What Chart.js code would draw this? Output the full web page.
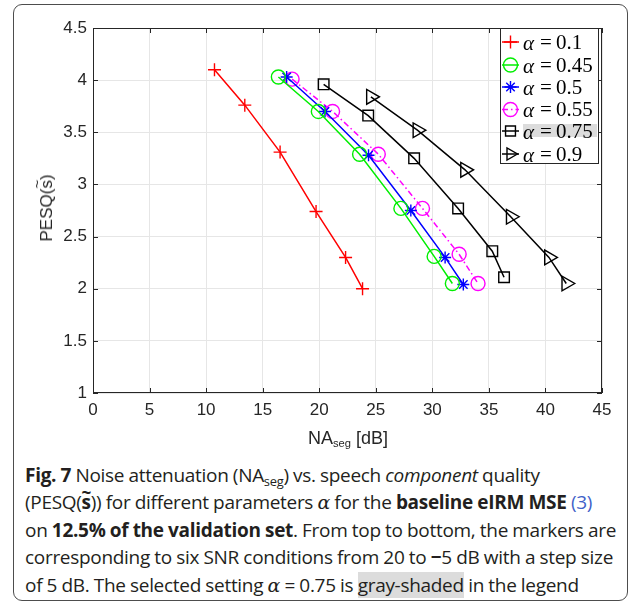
<!DOCTYPE html>
<html><head><meta charset="utf-8">
<script src="https://cdn.jsdelivr.net/npm/chart.js@4/dist/chart.umd.min.js"></script>
<style>
html,body{margin:0;padding:0;background:#fff;width:637px;height:608px;overflow:hidden;}
#frame{position:absolute;left:13px;top:4px;width:615px;height:597px;border:1px solid #4d4d4d;border-radius:9px;box-sizing:border-box;}
#c{position:absolute;left:0;top:0;}
.ytitle{position:absolute;left:47px;top:208px;transform:translate(-50%,-50%) rotate(-90deg);font-family:"Liberation Sans",Arial,sans-serif;font-size:17px;color:#262626;white-space:nowrap;}
.tl{position:relative;display:inline-block;}
.tl .t{position:absolute;left:0;right:0;text-align:center;top:-0.62em;font-size:0.9em;}
.xtitle{position:absolute;left:348px;top:438px;transform:translate(-50%,-50%);font-family:"Liberation Sans",Arial,sans-serif;font-size:18px;color:#262626;white-space:nowrap;}
.xtitle sub{font-size:0.62em;vertical-align:-0.3em;line-height:0;}
#cap{position:absolute;left:25px;top:462px;font-family:"Open Sans",sans-serif;font-size:19px;line-height:27.4px;white-space:nowrap;color:#231f20;letter-spacing:-0.3px;word-spacing:-0.3px;}
#cap sub{font-size:0.68em;vertical-align:-0.3em;line-height:0;}
#cap .m{font-family:"DejaVu Serif",serif;font-style:italic;}
#cap .blue{color:#3f62c9;}
#cap .gray{background:#dcdcdc;}
</style>
</head><body>
<div id="frame"></div>
<canvas id="c" width="637" height="450"></canvas>
<div class="ytitle">PESQ(<span class="tl">s<span class="t">~</span></span>)</div>
<div class="xtitle">NA<sub>seg</sub> [dB]</div>
<div id="cap"><b>Fig. 7</b> Noise attenuation (NA<sub>seg</sub>) vs. speech <i>component</i> quality<br>(PESQ(<b class="tl">s<span class="t">~</span></b>)) for different parameters <span class="m">α</span> for the <b>baseline eIRM MSE</b> <span class="blue">(3)</span><br>on <b>12.5% of the validation set</b>. From top to bottom, the markers are<br>corresponding to six SNR conditions from 20 to <b>−</b>5 dB with a step size<br>of 5 dB. The selected setting <span class="m">α</span> = 0.75 is <span class="gray">gray-shaded</span> in the legend</div>
<script>
// ---- data ----
const seriesNames = ["0.1", "0.45", "0.5", "0.55", "0.75", "0.9"];
const alpha01X  = [10.74, 13.42, 16.54, 19.72, 22.33, 23.83];
const alpha01Y  = [4.10, 3.76, 3.31, 2.74, 2.30, 2.00];
const alpha045X = [16.39, 19.92, 23.57, 27.22, 30.16, 31.77];
const alpha045Y = [4.03, 3.70, 3.29, 2.77, 2.31, 2.05];
const alpha05X  = [17.12, 20.51, 24.36, 28.10, 31.13, 32.74];
const alpha05Y  = [4.03, 3.70, 3.28, 2.75, 2.30, 2.04];
const alpha055X = [17.60, 21.18, 25.22, 29.13, 32.37, 34.04];
const alpha055Y = [4.01, 3.70, 3.29, 2.77, 2.33, 2.05];
const alpha075X = [20.39, 24.33, 28.39, 32.28, 35.30, 36.34];
const alpha075Y = [3.96, 3.66, 3.25, 2.77, 2.36, 2.11];
const alpha09X  = [24.57, 28.68, 32.89, 36.93, 40.31, 41.84];
const alpha09Y  = [3.84, 3.52, 3.14, 2.69, 2.30, 2.05];
const xTicks = [0, 5, 10, 15, 20, 25, 30, 35, 40, 45];
const yTicks = [1, 1.5, 2, 2.5, 3, 3.5, 4, 4.5];

const pts = (xs, ys) => xs.map((x, i) => ({x, y: ys[i]}));

const styles = [
  {color:'#ff0000', style:'cross', r:6.5, rot:0, dash:[]},
  {color:'#00ee00', style:'circle', r:7, rot:0, dash:[]},
  {color:'#0000ff', style:'star', r:6, rot:0, dash:[]},
  {color:'#ff00ff', style:'circle', r:7, rot:0, dash:[6,3,1.5,3]},
  {color:'#000000', style:'rect', r:7.5, rot:0, dash:[]},
  {color:'#000000', style:'triangle', r:8.5, rot:90, dash:[]}
];
const xs = [alpha01X, alpha045X, alpha05X, alpha055X, alpha075X, alpha09X];
const ys = [alpha01Y, alpha045Y, alpha05Y, alpha055Y, alpha075Y, alpha09Y];

const datasets = seriesNames.map((n, i) => ({
  label: 'α = ' + n,
  data: pts(xs[i], ys[i]),
  showLine: true,
  borderColor: styles[i].color,
  borderWidth: 1.5,
  borderDash: styles[i].dash,
  pointStyle: styles[i].style,
  pointRadius: styles[i].r,
  pointHoverRadius: styles[i].r,
  pointRotation: styles[i].rot,
  pointBorderColor: styles[i].color,
  pointBackgroundColor: 'rgba(0,0,0,0)',
  pointBorderWidth: 1.4,
  tension: 0
}));

function drawMarker(ctx, st, x, y){
  const r = st.r;
  ctx.save();
  ctx.strokeStyle = st.color; ctx.lineWidth = 1.4; ctx.setLineDash([]);
  ctx.beginPath();
  if (st.style === 'cross') {
    ctx.moveTo(x-r,y); ctx.lineTo(x+r,y); ctx.moveTo(x,y-r); ctx.lineTo(x,y+r);
  } else if (st.style === 'circle') {
    ctx.arc(x,y,r,0,Math.PI*2);
  } else if (st.style === 'star') {
    ctx.moveTo(x-r,y); ctx.lineTo(x+r,y); ctx.moveTo(x,y-r); ctx.lineTo(x,y+r);
    const d = r*Math.SQRT1_2;
    ctx.moveTo(x-d,y-d); ctx.lineTo(x+d,y+d); ctx.moveTo(x-d,y+d); ctx.lineTo(x+d,y-d);
  } else if (st.style === 'rect') {
    const s = r*Math.SQRT1_2;
    ctx.rect(x-s,y-s,2*s,2*s);
  } else if (st.style === 'triangle') {
    let a = st.rot*Math.PI/180;
    ctx.moveTo(x+Math.sin(a)*r, y-Math.cos(a)*r);
    a += 2*Math.PI/3; ctx.lineTo(x+Math.sin(a)*r, y-Math.cos(a)*r);
    a += 2*Math.PI/3; ctx.lineTo(x+Math.sin(a)*r, y-Math.cos(a)*r);
    ctx.closePath();
  }
  ctx.stroke();
  ctx.restore();
}

const boxPlugin = {
  id: 'boxAndLegend',
  beforeDatasetsDraw(chart){
    const {ctx, chartArea:a} = chart;
    ctx.save();
    ctx.strokeStyle = '#262626'; ctx.lineWidth = 1;
    ctx.strokeRect(Math.round(a.left)+0.5, Math.round(a.top)+0.5, Math.round(a.right-a.left)-1, Math.round(a.bottom-a.top)-1);
    const xs_ = chart.scales.x, ys_ = chart.scales.y;
    ctx.beginPath();
    yTicks.forEach(v => { const p = Math.round(ys_.getPixelForValue(v))+0.5; ctx.moveTo(a.left, p); ctx.lineTo(a.left+5, p); ctx.moveTo(a.right, p); ctx.lineTo(a.right-5, p); });
    xTicks.forEach(v => { const p = Math.round(xs_.getPixelForValue(v))+0.5; ctx.moveTo(p, a.bottom); ctx.lineTo(p, a.bottom-5); ctx.moveTo(p, a.top); ctx.lineTo(p, a.top+5); });
    ctx.stroke();
    ctx.restore();
  },
  afterDraw(chart){
    const ctx = chart.ctx;
    const x0 = 500, y0 = 28, w = 98, h = 135;
    ctx.save();
    ctx.fillStyle = '#fff'; ctx.fillRect(x0, y0, w, h);
    ctx.strokeStyle = '#262626'; ctx.lineWidth = 1;
    ctx.strokeRect(x0+0.5, y0+0.5, w, h);
    const rowY = [42, 65, 87, 109.5, 131, 154];
    seriesNames.forEach((n, i) => {
      const y = rowY[i], st = styles[i];
      if (i === 4) { ctx.fillStyle = '#dcdcdc'; ctx.fillRect(523, y-7, 74, 13); }
      ctx.strokeStyle = st.color; ctx.lineWidth = 1.5; ctx.setLineDash(st.dash);
      ctx.beginPath(); ctx.moveTo(502, y); ctx.lineTo(519, y); ctx.stroke();
      ctx.setLineDash([]);
      drawMarker(ctx, Object.assign({}, st, {r: Math.min(st.r, 7)}), 510.5, y);
      ctx.fillStyle = '#000';
      ctx.textBaseline = 'middle';
      ctx.font = 'italic 21px "Liberation Serif", serif';
      ctx.fillText('α', 523, y+2);
      ctx.font = '21px "Liberation Serif", serif';
      ctx.fillText('=', 540, y+1);
      ctx.fillText(n, 556, y+1);
    });
    ctx.restore();
  }
};

new Chart(document.getElementById('c'), {
  type: 'scatter',
  data: {datasets},
  options: {
    responsive: false,
    animation: false,
    layout: {padding: {top: 28, right: 35, left: 0, bottom: 0}},
    plugins: {legend: {display: false}, tooltip: {enabled: false}},
    scales: {
      x: {
        type: 'linear', min: 0, max: 45,
        afterBuildTicks: s => { s.ticks = xTicks.map(v => ({value: v})); },
        afterFit: s => { s.height = 57; },
        grid: {color: '#e6e6e6', drawTicks: false, lineWidth: 1},
        border: {display: false},
        ticks: {color: '#262626', padding: 7, font: {family: '"Liberation Sans", Arial, sans-serif', size: 17}, maxRotation: 0, callback: v => String(v)}
      },
      y: {
        type: 'linear', min: 1, max: 4.5,
        afterBuildTicks: s => { s.ticks = yTicks.map(v => ({value: v})); },
        afterFit: s => { s.width = 93; },
        grid: {color: '#e6e6e6', drawTicks: false, lineWidth: 1},
        border: {display: false},
        ticks: {color: '#262626', padding: 6, font: {family: '"Liberation Sans", Arial, sans-serif', size: 17}, callback: v => String(v)}
      }
    }
  },
  plugins: [boxPlugin]
});
</script>
</body></html>
